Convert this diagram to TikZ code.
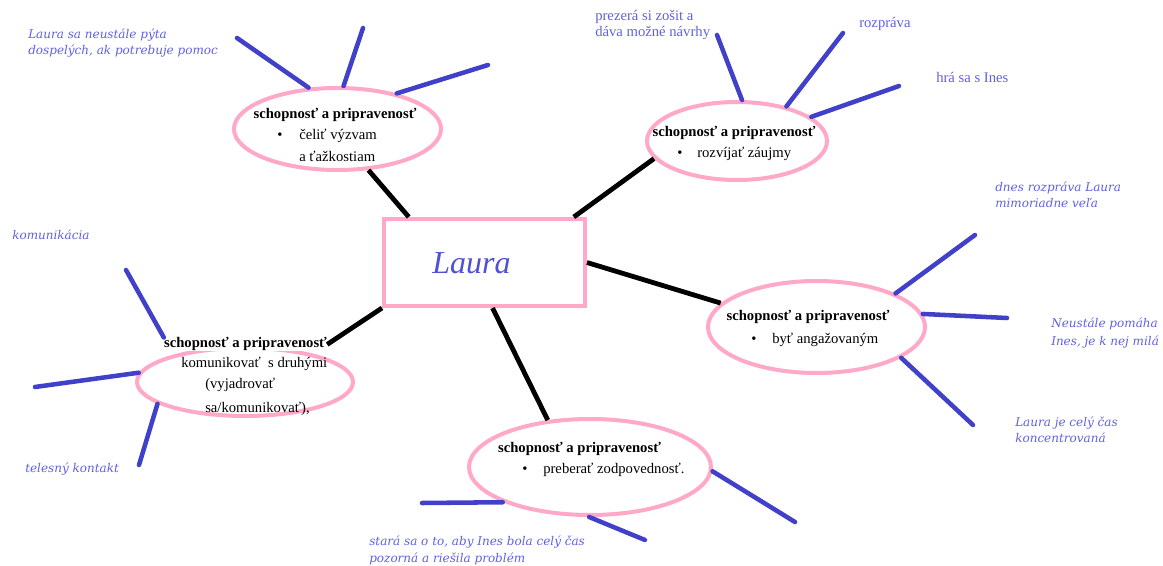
\documentclass[tikz,border=0pt]{standalone}
\usepackage{fontspec}
\setmainfont{Liberation Serif}
\newfontfamily\notefont{DejaVu Serif}
\usetikzlibrary{shapes.geometric}
\definecolor{pline}{RGB}{255,168,200}
\definecolor{sline}{RGB}{ 64, 64,200}
\definecolor{ncol} {RGB}{ 96, 96,228}
\definecolor{hcol} {RGB}{ 80, 80,215}
\tikzset{
  PE/.style={ellipse, draw=pline, line width=3pt, inner sep=0pt},
  PR/.style={rectangle, draw=pline, line width=3pt, inner sep=0pt,
             minimum width=150.75pt, minimum height=65.25pt},
  BL/.style={black, line width=3.6pt},
  SP/.style={sline, line width=3.4pt, line cap=round},
  TT/.style={anchor=base, inner sep=0pt, font=\fontsize{11}{13}\selectfont\bfseries},
  BT/.style={anchor=base west, inner sep=0pt, font=\fontsize{11}{13}\selectfont},
  NT/.style={anchor=base west, inner sep=0pt, ncol,
             font=\notefont\itshape\fontsize{9}{11}\selectfont},
  NU/.style={anchor=base west, inner sep=0pt, ncol, font=\fontsize{11}{13}\selectfont},
}

\begin{document}
\begin{tikzpicture}[x=0.75pt, y=-0.75pt]
\useasboundingbox (0,0) rectangle (1163,566);

%% ================================================================
%%  CENTRE
%% ================================================================
\node[PR] (laura) at (484.5,262.5) {};
\node[anchor=base, inner sep=0pt, hcol, font=\fontsize{24}{28}\selectfont\itshape]
  (lauraname) at (471.5,274) {Laura};

%% ================================================================
%%  BUBBLE 1 – TOP LEFT
%% ================================================================
\node[PE, minimum width=155.25pt, minimum height=61.5pt] (e1) at (337.5,129) {};
\node[TT] (t1) at (335,119) {schopnosť a pripravenosť};
\node[BT] (b1) at (277,140) {•};
\node[BT] (l1a) at (299,140) {čeliť výzvam};
\node[BT] (l1b) at (299,162) {a ťažkostiam};

% spokes
\coordinate (s11) at (237,38);
\coordinate (s12) at (363,28);
\coordinate (s13) at (488,65);
\draw[SP] (e1.125) -- (s11);
\draw[SP] (e1.82)  -- (s12);
\draw[SP] (e1.31)  -- (s13);

\node[NT] (n1a) at (28,39) {Laura sa neustále pýta};
\node[NT] (n1b) at (28,55) {dospelých, ak potrebuje pomoc};

\draw[BL] (e1.307) -- (laura.149);

%% ================================================================
%%  BUBBLE 2 – TOP RIGHT
%% ================================================================
\node[PE, minimum width=135pt, minimum height=58.5pt] (e2) at (737,141) {};
\node[TT] (t2) at (734,137) {schopnosť a pripravenosť};
\node[BT] (b2) at (677,158) {•};
\node[BT] (l2a) at (697,158) {rozvíjať záujmy};

% spokes
\coordinate (s21) at (717,35);
\coordinate (s22) at (843,33);
\coordinate (s23) at (899,86);
\draw[SP] (e2.83) -- (s21);
\draw[SP] (e2.35) -- (s22);
\draw[SP] (e2.18) -- (s23);

\node[NU] (n2a) at (595,21) {prezerá si zošit a};
\node[NU] (n2b) at (595,37) {dáva možné návrhy};
\node[NU] (n2c) at (859,28) {rozpráva};
\node[NU] (n2d) at (936,83) {hrá sa s Ines};

\draw[BL] (laura.27) -- (e2.192);

%% ================================================================
%%  BUBBLE 3 – RIGHT
%% ================================================================
\node[PE, minimum width=162.75pt, minimum height=69pt] (e3) at (816.5,327) {};
\node[TT] (t3) at (808,321) {schopnosť a pripravenosť};
\node[BT] (b3) at (751,344) {•};
\node[BT] (l3a) at (772,344) {byť angažovaným};

% spokes
\coordinate (s31) at (975,235);
\coordinate (s32) at (1007,318);
\coordinate (s33) at (973,425);
\draw[SP] (e3.23)  -- (s31);
\draw[SP] (e3.7)   -- (s32);
\draw[SP] (e3.340) -- (s33);

\node[NT] (n3a) at (995,192) {dnes rozpráva Laura};
\node[NT] (n3b) at (995,208) {mimoriadne veľa};
\node[NT] (n3c) at (1051,328) {Neustále pomáha};
\node[NT] (n3d) at (1051,345) {Ines, je k nej milá};
\node[NT] (n3e) at (1015,426) {Laura je celý čas};
\node[NT] (n3f) at (1015,442) {koncentrovaná};

\draw[BL] (laura.0) -- (e3.166);

%% ================================================================
%%  BUBBLE 4 – BOTTOM
%% ================================================================
\node[PE, minimum width=181.5pt, minimum height=72pt] (e4) at (590,467) {};
\node[TT] (t4) at (579.5,452) {schopnosť a pripravenosť};
\node[BT] (b4) at (522,473) {•};
\node[BT] (l4a) at (543,473) {preberať zodpovednosť.};

% spokes
\coordinate (s41) at (422,503);
\coordinate (s42) at (645,540);
\coordinate (s43) at (795,522);
\draw[SP] (e4.202) -- (s41);
\draw[SP] (e4.269) -- (s42);
\draw[SP] (e4.358) -- (s43);

\node[NT] (n4a) at (369,545) {stará sa o to, aby Ines bola celý čas};
\node[NT] (n4b) at (369,562) {pozorná a riešila problém};

\draw[BL] (laura.280) -- (e4.132);

%% ================================================================
%%  BUBBLE 5 – LEFT
%% ================================================================
\node[PE, minimum width=162pt, minimum height=51pt] (e5) at (245,382) {};
\node[TT, fill=white] (t5) at (245.5,348) {schopnosť a pripravenosť};
\node[BT] (l5a) at (181,368) {komunikovať\ \ s druhými};
\node[BT] (l5b) at (205,388) {(vyjadrovať};
\node[BT] (l5c) at (205,412) {sa/komunikovať),};

% spokes
\coordinate (s51) at (126,270);
\coordinate (s52) at (35,387);
\coordinate (s53) at (139,465);
\draw[SP] (t5.north west) -- (s51);
\draw[SP] (e5.175) -- (s52);
\draw[SP] (e5.194) -- (s53);

\node[NT] (n5a) at (12,240) {komunikácia};
\node[NT] (n5b) at (25,472) {telesný kontakt};

\draw[BL] (laura.south west) -- (t5.east);

\end{tikzpicture}
\end{document}
